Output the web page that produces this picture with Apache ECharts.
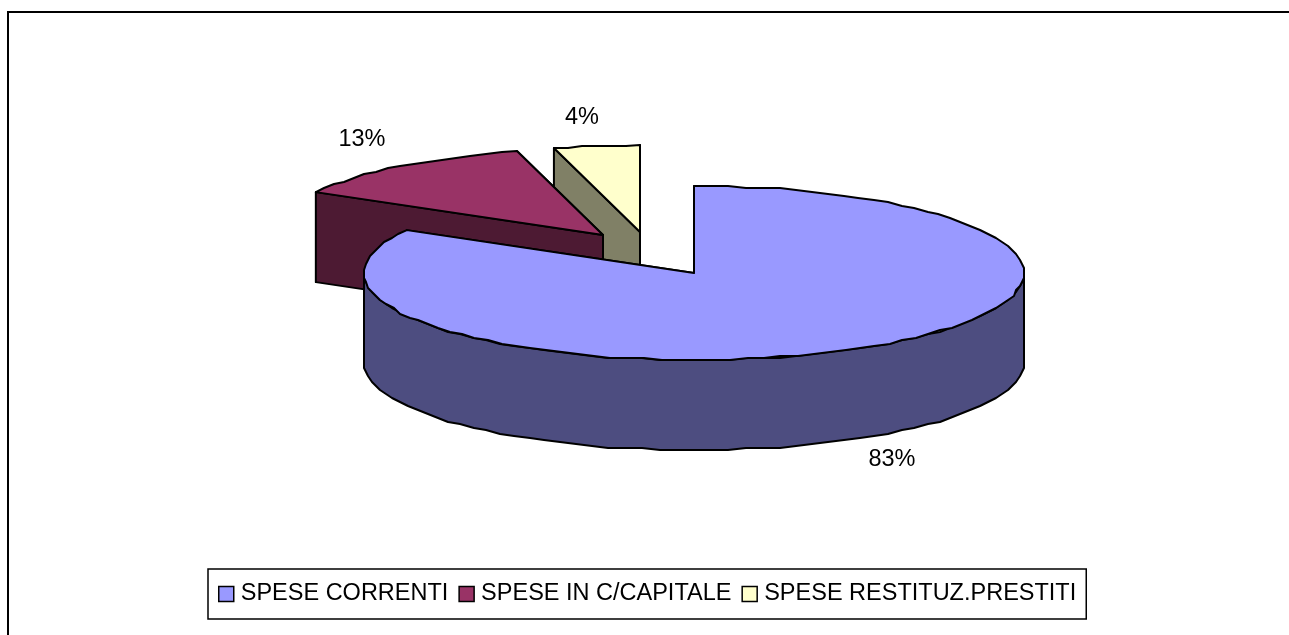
<!DOCTYPE html>
<html><head><meta charset="utf-8">
<style>html,body{margin:0;padding:0;background:#fff;overflow:hidden}#c{width:1289px;height:635px}</style>
<script src="https://cdn.jsdelivr.net/npm/echarts@6/dist/echarts.min.js"></script>
</head><body><div id="c"></div>
<script>
const categories = ['SPESE CORRENTI', 'SPESE IN C/CAPITALE', 'SPESE RESTITUZ.PRESTITI'];
const values = [83.2, 12.6, 4.2];
const topColors = ['#9999FF', '#993366', '#FFFFCC'];
const sideColors = ['#4D4D80', '#4D1A33', '#808066'];
const centers = [[694, 273], [603, 235], [640, 232]];
const labelPositions = [[892, 460], [362, 140], [582, 118]];
const RX = 330, RY = 87, DEPTH = 90, FONT = '"Liberation Sans", Arial, sans-serif';
const total = values.reduce((a, b) => a + b, 0);
const snap = v => Math.round(v / 2) * 2;
const starts = values.map((_, i) => values.slice(0, i).reduce((a, b) => a + b, 0) / total * 360);

function pt(c, deg, dy) {
  const r = deg * Math.PI / 180;
  return [c[0] + RX * Math.sin(r), c[1] - RY * Math.cos(r) + (dy || 0)];
}
function arc(c, a0, a1, dy) {
  const n = Math.max(1, Math.ceil((a1 - a0) / 3));
  const out = [];
  for (let k = 0; k <= n; k++) {
    const p = pt(c, a0 + (a1 - a0) * k / n, dy);
    out.push(k === 0 || k === n ? p : [snap(p[0]), snap(p[1])]);
  }
  return out;
}
function poly(points, fill) {
  return { type: 'polygon', shape: { points }, silent: true,
    style: { fill, stroke: '#000', lineWidth: 2, lineJoin: 'round' } };
}
const renderSlice = i => () => {
  const c = centers[i], a0 = starts[i], a1 = a0 + values[i] / total * 360;
  const children = [];
  const face = a => {
    const p = pt(c, a);
    return poly([c, p, [p[0], p[1] + DEPTH], [c[0], c[1] + DEPTH]], sideColors[i]);
  };
  children.push(face(a1), face(a0));
  const f0 = Math.max(a0, 90), f1 = Math.min(a1, 270);
  if (f1 > f0) {
    children.push(poly(arc(c, f0, f1, 0).concat(arc(c, f0, f1, DEPTH).reverse()), sideColors[i]));
  }
  children.push(poly([c].concat(arc(c, a0, a1, 0)), topColors[i]));
  children.push({ type: 'text', silent: true, style: {
    x: labelPositions[i][0], y: labelPositions[i][1],
    text: Math.round(values[i] / total * 100) + '%',
    font: '23.5px ' + FONT, fill: '#000', align: 'center', verticalAlign: 'middle' } });
  return { type: 'group', children };
};
const drawOrder = [2, 1, 0];
const chart = echarts.init(document.getElementById('c'), null, { renderer: 'canvas' });
chart.setOption({
  animation: false,
  backgroundColor: '#fff',
  graphic: [{ type: 'rect', silent: true, z: -1,
    shape: { x: 8, y: 12, width: 1400, height: 800 },
    style: { fill: 'none', stroke: '#000', lineWidth: 2 } }],
  legend: {
    left: 208, top: 569, orient: 'horizontal',
    data: categories.map(name => ({ name, icon: 'rect' })),
    backgroundColor: '#fff', borderColor: '#000', borderWidth: 1.5,
    padding: [13, 10, 13, 10], itemWidth: 15, itemHeight: 15, itemGap: 10,
    selectedMode: false,
    textStyle: { fontFamily: FONT, fontSize: 23.5, color: '#000', padding: [0, 0, 0, 2] },
    itemStyle: { borderColor: '#000', borderWidth: 1.5 }
  },
  series: drawOrder.map(i => ({
    type: 'custom', name: categories[i], coordinateSystem: 'none',
    silent: true, clip: false,
    itemStyle: { color: topColors[i], borderColor: '#000', borderWidth: 1.5 },
    data: [values[i]],
    renderItem: renderSlice(i)
  }))
});
</script></body></html>
